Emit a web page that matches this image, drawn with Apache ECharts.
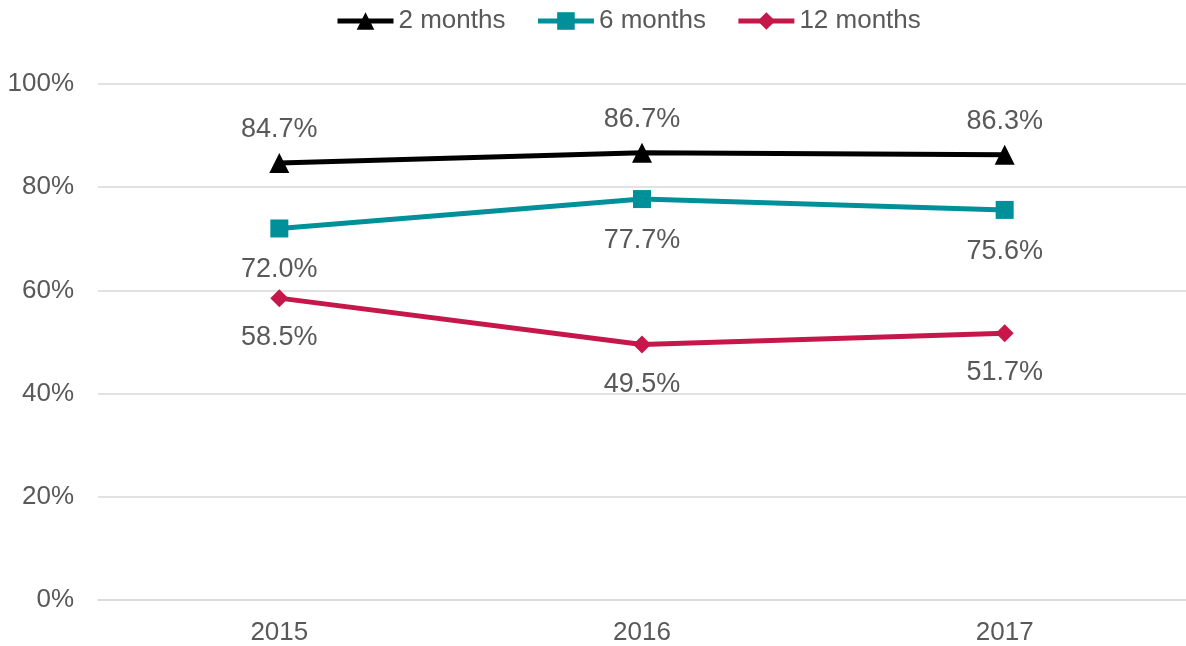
<!DOCTYPE html>
<html>
<head>
<meta charset="utf-8">
<script src="https://cdn.jsdelivr.net/npm/echarts@6/dist/echarts.min.js"></script>
<style>
  html, body { margin: 0; padding: 0; background: #fff; }
  #chart { width: 1186px; height: 646px; }
</style>
</head>
<body>
<div id="chart"></div>
<script>
const years = ['2015', '2016', '2017'];
const twoMonths = [84.7, 86.7, 86.3];
const sixMonths = [72.0, 77.7, 75.6];
const twelveMonths = [58.5, 49.5, 51.7];
const yTicks = [0, 20, 40, 60, 80, 100];

const textColor = '#595959';
const font = '"Liberation Sans", Arial, sans-serif';

function lineSeries(name, data, color, symbol, size, labelPos, dist) {
  return {
    name: name,
    type: 'line',
    data: data,
    symbol: symbol,
    symbolSize: size,
    lineStyle: { color: color, width: 5 },
    itemStyle: { color: color },
    label: {
      show: true,
      position: labelPos,
      distance: dist,
      formatter: p => p.value.toFixed(1) + '%',
      color: textColor,
      fontFamily: font,
      fontSize: 27
    }
  };
}

const chart = echarts.init(document.getElementById('chart'));
chart.setOption({
  animation: false,
  textStyle: { fontFamily: font },
  legend: {
    top: 3,
    left: 330,
    itemWidth: 56,
    itemHeight: 22,
    itemGap: 30,
    lineStyle: { width: 5 },
    textStyle: { color: textColor, fontSize: 26, fontFamily: font },
    data: ['2 months', '6 months', '12 months']
  },
  grid: { left: 98, top: 84, width: 1092, height: 516 },
  xAxis: {
    type: 'category',
    data: years,
    boundaryGap: true,
    axisLine: { show: true, lineStyle: { color: '#d9d9d9', width: 1.5 } },
    axisTick: { show: false },
    axisLabel: { color: textColor, fontSize: 26, fontFamily: font, margin: 20 }
  },
  yAxis: {
    type: 'value',
    min: yTicks[0],
    max: yTicks[yTicks.length - 1],
    interval: 20,
    axisLine: { show: false },
    axisTick: { show: false },
    splitLine: { lineStyle: { color: '#d9d9d9', width: 1.5 } },
    axisLabel: { color: textColor, fontSize: 26, fontFamily: font, margin: 24, formatter: v => v + '%' }
  },
  series: [
    lineSeries('2 months', twoMonths, '#000000', 'triangle', 20, 'top', 10),
    lineSeries('6 months', sixMonths, '#00909a', 'rect', 18, 'bottom', 19),
    lineSeries('12 months', twelveMonths, '#c5174a', 'diamond', 18, 'bottom', 17)
  ]
});
</script>
</body>
</html>
